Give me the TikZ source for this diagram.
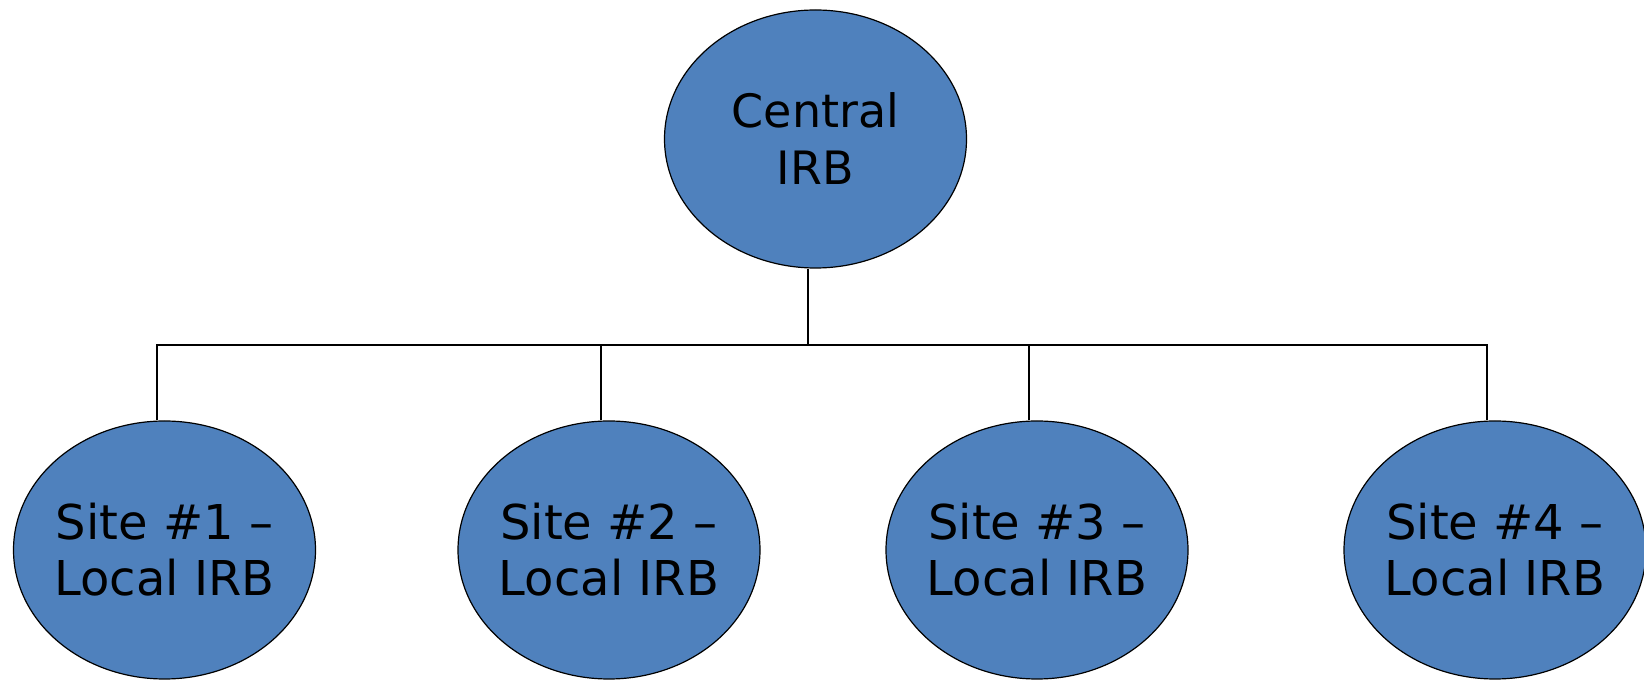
\documentclass[tikz,border=0pt]{standalone}
\usepackage{fontspec}
\setmainfont{DejaVu Sans}
\usetikzlibrary{shapes.geometric}
\definecolor{irbblue}{HTML}{4F81BD}
\newcommand\irbcentralfont{\fontsize{46}{57}\selectfont}
\newcommand\irbsitefont{\fontsize{48}{56}\selectfont}
\tikzset{
  irb/.style={ellipse, draw=black, line width=1.2pt, fill=irbblue,
    minimum width=302pt, minimum height=258pt, inner xsep=-60pt, inner ysep=0pt,
    align=center},
  central/.style={irb, font=\irbcentralfont},
  site/.style={irb, font=\irbsitefont},
  link/.style={draw=black, line width=2pt}
}
\begin{document}
\begin{tikzpicture}[x=1pt,y=1pt]
\useasboundingbox (0,0) rectangle (1644,680);
\fill[white] (0,0) rectangle (1644,680);
\node[central] (c) at (815.5,541) {Central\\IRB};
\node[site] (s1) at (164.5,130) {Site \#1 –\\Local IRB};
\node[site] (s2) at (609,130) {Site \#2 –\\Local IRB};
\node[site] (s3) at (1037,130) {Site \#3 –\\Local IRB};
\node[site] (s4) at (1495,130) {Site \#4 –\\Local IRB};
\coordinate (bus) at (0,335);
\draw[link] ([xshift=-8pt]s1.north) -- ([xshift=-8pt]s1.north |- bus) -- ([xshift=-8pt]s4.north |- bus) -- ([xshift=-8pt]s4.north);
\draw[link] ([xshift=-8pt]c.south) -- ([xshift=-8pt]c.south |- bus);
\draw[link] ([xshift=-8pt]s2.north) -- ([xshift=-8pt]s2.north |- bus);
\draw[link] ([xshift=-8pt]s3.north) -- ([xshift=-8pt]s3.north |- bus);
\end{tikzpicture}
\end{document}
